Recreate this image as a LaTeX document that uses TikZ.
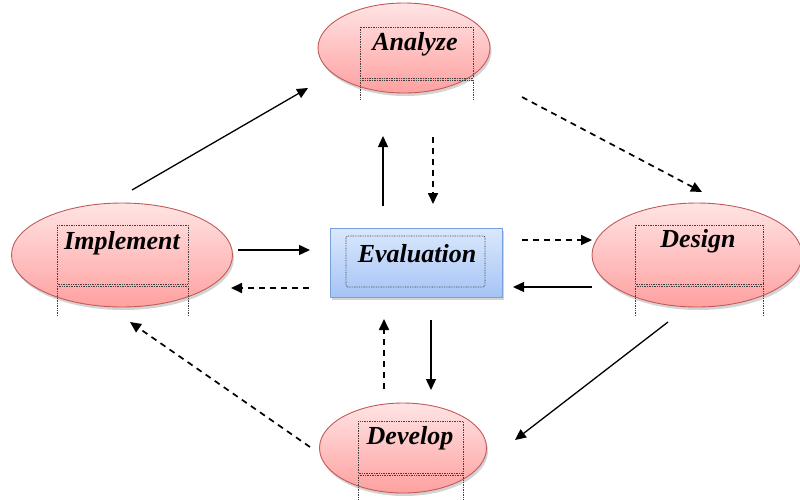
\documentclass[tikz,border=0pt]{standalone}
\usepackage{fontspec}
\setmainfont{Liberation Serif}
\usetikzlibrary{arrows.meta,shapes.geometric,shadows}
\definecolor{ptop}{RGB}{255,228,228}
\definecolor{pbot}{RGB}{255,160,160}
\definecolor{pedge}{RGB}{195,90,90}
\definecolor{btop}{RGB}{218,232,252}
\definecolor{bbot}{RGB}{165,196,245}
\definecolor{bedge}{RGB}{120,160,220}
\tikzset{
  phase/.style={ellipse, draw=pedge, line width=0.9pt, top color=ptop, bottom color=pbot,
    drop shadow={shadow xshift=1.5pt, shadow yshift=-3pt, opacity=0.35}, inner sep=0pt},
  evalbox/.style={rectangle, draw=bedge, line width=0.9pt, top color=btop, bottom color=bbot,
    drop shadow={shadow xshift=1.5pt, shadow yshift=-3pt, opacity=0.35}, inner sep=0pt},
  lbl/.style={font=\fontsize{26}{28}\selectfont\bfseries\itshape, text=black},
  dotbox/.style={draw=black!75, line width=0.7pt, dash pattern=on 0.8pt off 0.9pt},
  solidarrow/.style={draw=black, line width=1.3pt, -{Triangle[length=11pt,width=10pt]}},
  dasharrow/.style={draw=black, line width=1.7pt, dash pattern=on 6pt off 5pt, -{Triangle[length=11pt,width=10pt]}},
}
\begin{document}
\begin{tikzpicture}[x=1pt,y=-1pt]
\useasboundingbox (0,0) rectangle (800,499);
% ellipses
\node[phase, minimum width=172pt, minimum height=90pt] (ana) at (404,48) {};
\node[phase, minimum width=221pt, minimum height=104pt] (imp) at (122,255) {};
\node[phase, minimum width=210pt, minimum height=104pt] (des) at (697,255) {};
\node[phase, minimum width=167pt, minimum height=90pt] (dev) at (403,448) {};
\node[evalbox, minimum width=172pt, minimum height=69pt] (eva) at (416,262.5) {};
% dotted inner boxes
\draw[dotbox] (360,27) rectangle (473,78);
\draw[dotbox] (360,80) -- (473,80);
\draw[dotbox] (360,80) -- (360,100) (473,80) -- (473,100);
\draw[dotbox] (57,225) rectangle (188,284);
\draw[dotbox] (57,286) -- (188,286);
\draw[dotbox] (57,286) -- (57,315) (188,286) -- (188,315);
\draw[dotbox] (635,225) rectangle (763,284);
\draw[dotbox] (635,286) -- (763,286);
\draw[dotbox] (635,286) -- (635,315) (763,286) -- (763,315);
\draw[dotbox] (358,421) rectangle (463,473);
\draw[dotbox] (358,475) -- (463,475);
\draw[dotbox] (358,475) -- (358,499) (463,475) -- (463,499);
\draw[dotbox, rounded corners=2pt] (346,236) rectangle (485,287);
% labels
\node[lbl] (tana) at (415,44) {Analyze};
\node[lbl] (timp) at (122,243) {Implement};
\node[lbl] (tdes) at (698,241) {Design};
\node[lbl] (tdev) at (410,438) {Develop};
\node[lbl] (teva) at (417,254) {Evaluation};
% connector end points
\coordinate (a1) at (132,190); \coordinate (a2) at (308,88);
\coordinate (b1) at (522,97);  \coordinate (b2) at (702,192);
\coordinate (c1) at (668,322); \coordinate (c2) at (515,440);
\coordinate (d1) at (310,447); \coordinate (d2) at (130,322);
\coordinate (e1) at (383,206); \coordinate (e2) at (383,136);
\coordinate (f1) at (433,137); \coordinate (f2) at (433,204);
\coordinate (g1) at (238,250); \coordinate (g2) at (310,250);
\coordinate (h1) at (309,288); \coordinate (h2) at (231,288);
\coordinate (i1) at (522,240); \coordinate (i2) at (592,240);
\coordinate (j1) at (592,287); \coordinate (j2) at (513,287);
\coordinate (k1) at (384,389); \coordinate (k2) at (384,319);
\coordinate (l1) at (431,320); \coordinate (l2) at (431,390);
% connectors
\draw[solidarrow] (a1) -- (a2);
\draw[dasharrow] (b1) -- (b2);
\draw[solidarrow] (c1) -- (c2);
\draw[dasharrow] (d1) -- (d2);
\draw[solidarrow] (e1) -- (e2);
\draw[dasharrow] (f1) -- (f2);
\draw[solidarrow] (g1) -- (g2);
\draw[dasharrow] (h1) -- (h2);
\draw[dasharrow] (i1) -- (i2);
\draw[solidarrow] (j1) -- (j2);
\draw[dasharrow] (k1) -- (k2);
\draw[solidarrow] (l1) -- (l2);
\end{tikzpicture}
\end{document}
